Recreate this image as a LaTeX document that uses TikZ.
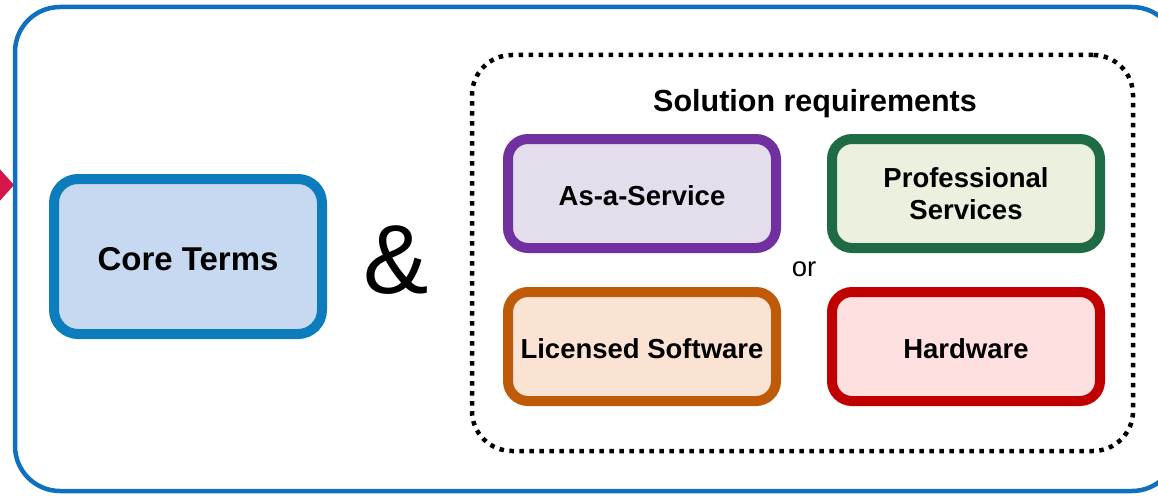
\documentclass[tikz,border=0pt]{standalone}
\usepackage{fontspec}
\setmainfont{Liberation Sans}
\definecolor{frameblue}{HTML}{1070C0}
\definecolor{coreblue}{HTML}{0C7CBD}
\definecolor{corefill}{HTML}{C6D9F0}
\definecolor{saasline}{HTML}{7030A0}
\definecolor{saasfill}{HTML}{E4DEEC}
\definecolor{psline}{HTML}{1E6B45}
\definecolor{psfill}{HTML}{EBF1DE}
\definecolor{licline}{HTML}{BE5A08}
\definecolor{licfill}{HTML}{FBE3D4}
\definecolor{hwline}{HTML}{C00000}
\definecolor{hwfill}{HTML}{FFE0E0}
\definecolor{arrowred}{HTML}{D5164A}
\tikzset{
  optbox/.style={draw=#1, line width=10pt, rounded corners=20pt,
    minimum width=268pt, minimum height=109pt, inner sep=0pt,
    font=\fontsize{27.5}{32}\selectfont\bfseries, align=center},
  oneline/.style={text height=24pt, text depth=0pt},
  corebox/.style={draw=coreblue, fill=corefill, line width=10pt, rounded corners=24pt,
    minimum width=268pt, minimum height=155pt, inner sep=0pt,
    text height=28pt, text depth=0pt,
    font=\fontsize{33}{38}\selectfont\bfseries},
  dotbox/.style={draw=black, line width=4.5pt, dash pattern=on 4.5pt off 5.5pt,
    rounded corners=40pt, minimum width=661pt, minimum height=396pt, inner sep=0pt},
}
\begin{document}
\begin{tikzpicture}[x=1pt, y=-1pt]
  \useasboundingbox (0,0) rectangle (1158,495);
  \clip (0,0) rectangle (1158,495);
  % incoming arrow tip at the left edge
  \fill[arrowred] (-20,147) -- (14,185) -- (-20,223) -- cycle;
  % outer frame
  \draw[frameblue, line width=4.5pt, rounded corners=45pt] (15,7) rectangle (1177,491);
  % core terms
  \node[corebox] (core) at (188,256.5) {Core Terms};
  \node[font=\fontsize{98}{100}\selectfont] (amp) at (396,260) {\&};
  % solution requirements group
  \node[dotbox] (req) at (802.5,253) {};
  \node[font=\fontsize{30.5}{34}\selectfont\bfseries] (reqtitle) at (815,104) {Solution requirements};
  \node[optbox=saasline, fill=saasfill, oneline] (saas) at (642,193.5) {As-a-Service};
  \node[optbox=psline, fill=psfill] (ps) at (966,193.5) {Professional\\Services};
  \node[optbox=licline, fill=licfill, oneline] (lic) at (642,346.5) {Licensed Software};
  \node[optbox=hwline, fill=hwfill, oneline] (hw) at (966,346.5) {Hardware};
  \node[font=\fontsize{27.5}{32}\selectfont] (or) at (804,269) {or};
\end{tikzpicture}
\end{document}
